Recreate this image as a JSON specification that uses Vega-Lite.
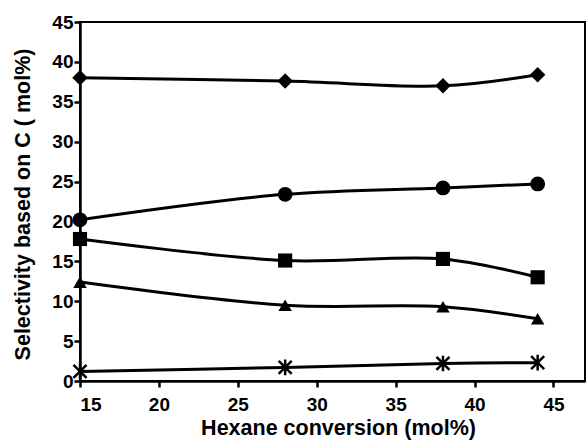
{
  "$schema": "https://vega.github.io/schema/vega-lite/v6.json",
  "width": 505,
  "height": 359,
  "autosize": {"type": "none"},
  "padding": {"left": 80, "top": 22, "right": 2, "bottom": 61},
  "background": "white",
  "config": {
    "view": {"stroke": "black", "strokeWidth": 2},
    "font": "Liberation Sans",
    "axis": {
      "grid": false,
      "domainColor": "black",
      "domainWidth": 2.5,
      "tickColor": "black",
      "tickWidth": 2.5,
      "tickSize": 6,
      "labelFont": "Liberation Sans",
      "labelFontWeight": "bold",
      "labelFontSize": 19,
      "labelColor": "black",
      "titleFont": "Liberation Sans",
      "titleFontWeight": "bold",
      "titleFontSize": 21.5,
      "titleColor": "black"
    }
  },
  "data": {
    "values": [
      {"x": 15, "y": 38.0, "s": "A"},
      {"x": 28, "y": 37.6, "s": "A"},
      {"x": 38, "y": 37.0, "s": "A"},
      {"x": 44, "y": 38.4, "s": "A"},
      {"x": 15, "y": 20.2, "s": "B"},
      {"x": 28, "y": 23.4, "s": "B"},
      {"x": 38, "y": 24.2, "s": "B"},
      {"x": 44, "y": 24.7, "s": "B"},
      {"x": 15, "y": 17.8, "s": "C"},
      {"x": 28, "y": 15.1, "s": "C"},
      {"x": 38, "y": 15.3, "s": "C"},
      {"x": 44, "y": 13.0, "s": "C"},
      {"x": 15, "y": 12.4, "s": "D"},
      {"x": 28, "y": 9.5, "s": "D"},
      {"x": 38, "y": 9.3, "s": "D"},
      {"x": 44, "y": 7.8, "s": "D"},
      {"x": 15, "y": 1.2, "s": "E"},
      {"x": 28, "y": 1.7, "s": "E"},
      {"x": 38, "y": 2.2, "s": "E"},
      {"x": 44, "y": 2.3, "s": "E"}
    ]
  },
  "encoding": {
    "x": {
      "field": "x", "type": "quantitative",
      "scale": {"domain": [15, 47], "nice": false, "zero": false},
      "axis": {"values": [15, 20, 25, 30, 35, 40, 45], "title": "Hexane conversion (mol%)", "labelPadding": 8, "titlePadding": 3, "titleX": 258}
    },
    "y": {
      "field": "y", "type": "quantitative",
      "scale": {"domain": [0, 45], "nice": false},
      "axis": {"values": [0, 5, 10, 15, 20, 25, 30, 35, 40, 45], "title": "Selectivity based on C ( mol%)", "labelPadding": 1, "titlePadding": 17, "titleY": 182}
    }
  },
  "layer": [
    {
      "mark": {"type": "line", "interpolate": "catmull-rom", "color": "black", "strokeWidth": 3},
      "encoding": {"detail": {"field": "s"}}
    },
    {
      "transform": [{"filter": "datum.s != 'E'"}],
      "mark": {"type": "point", "filled": true, "color": "black", "opacity": 1, "strokeWidth": 0},
      "encoding": {
        "shape": {
          "field": "s", "type": "nominal",
          "scale": {"domain": ["A", "B", "C", "D"], "range": ["diamond", "circle", "square", "triangle-up"]},
          "legend": null
        },
        "size": {
          "field": "s", "type": "nominal",
          "scale": {"domain": ["A", "B", "C", "D"], "range": [240, 180, 180, 200]},
          "legend": null
        }
      }
    },
    {
      "transform": [{"filter": "datum.s == 'E'"}],
      "mark": {"type": "point", "filled": false, "color": "black", "opacity": 1, "strokeWidth": 2.5, "size": 170,
        "shape": "M-1,-1L1,1M-1,1L1,-1M0,-1.2L0,1.2"}
    }
  ]
}
